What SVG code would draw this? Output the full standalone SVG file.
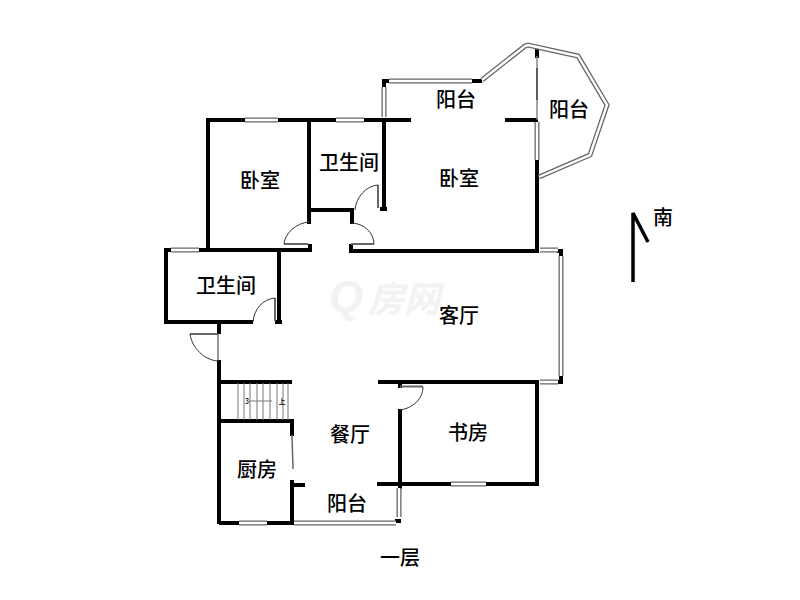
<svg xmlns="http://www.w3.org/2000/svg" width="800" height="600" viewBox="0 0 800 600">
<style>
.w{stroke:#000;stroke-width:4;fill:none;stroke-linecap:square}
.win{stroke:#666;stroke-width:5;fill:none;stroke-linecap:butt}
.wi{stroke:#fff;stroke-width:2.4;fill:none;stroke-linecap:butt}
.leaf{stroke:#666;stroke-width:2;fill:none}
.arc{stroke:#333;stroke-width:1;fill:none}
.st{stroke:#777;stroke-width:1;fill:none}
text{font-family:"Noto Sans CJK SC","Liberation Sans",sans-serif;font-size:20px;fill:#000;text-anchor:middle;font-weight:500}
</style>
<rect width="800" height="600" fill="#fff"/>
<text x="346" y="312" style="font-size:44px;fill:#f2f2f2;font-style:italic;font-family:'Liberation Sans',sans-serif;font-weight:700">Q</text>
<text x="404" y="312" style="font-size:36px;fill:#f2f2f2;font-style:italic;font-weight:700">房网</text>
<g id="walls">
<path class="w" d="M384 86V81H389M474 81H480M384 120V208M209 120H409M507 120H536M537 162V250M537 50V56"/>
<path class="w" d="M208 120V250M309 120V222M309 210H352M352 210V222M382 209H385M310 246V250M351 246V250M351 251H537"/>
<path class="w" d="M166 250H310M166 250V322M166 322H251M279 251V322M277 322H280M219 322V332M219 362V522M221 382H290M221 421H292M292 421V434M292 482V522M292 485H303M380 382H537M400 384V386M400 411V484M379 484H537M537 384V484M221 523H237M268 523H292M397 521H399M400 484V487"/>
<path class="w" d="M559 251H561V255M559 382H561V378"/>
</g>
<g id="windows">
<path class="win" d="M389 81H472M384 87V117M482 80L525 46L528 45L578 56L607 105L590 155L539 177M537 122V160M245 120H278M336 120H364M171 250H199M540 250H558M561 256V376M540 382H558M451 484H486M399 488V517M294 523H396M239 523H267"/>
<path class="wi" d="M389 81H472M384 87V117M482 80L525 46L528 45L578 56L607 105L590 155L539 177M537 122V160M245 120H278M336 120H364M171 250H199M540 250H558M561 256V376M540 382H558M451 484H486M399 488V517M294 523H396M239 523H267"/>
<path d="M537 56V120" stroke="#888" stroke-width="1.500" fill="none"/>
<path d="M537 68V100" stroke="#444" stroke-width="1.500" fill="none"/>
</g>
<g id="doors">
<path class="leaf" d="M284 244H308"/><path class="arc" d="M284 244C285 233 296 223 309 222"/>
<path class="leaf" d="M351 244H374"/><path class="arc" d="M351 223C364 223 374 233 374 244"/>
<path class="leaf" d="M378 185V208"/><path class="arc" d="M378 185C366 186 356 197 355 210"/>
<path class="leaf" d="M275 298V321"/><path class="arc" d="M275 298C263 299 254 309 253 322"/>
<path class="leaf" d="M190 334H218"/><path class="arc" d="M190 334C192 348 204 360 218 361M218 334V361"/>
<path class="leaf" d="M400 386.500H423"/><path class="arc" d="M423 387C423 399 412 409 399 410"/>
<path d="M292 435L293 469" stroke="#666" stroke-width="1.500" fill="none"/>
</g>
<g id="stairs">
<path class="st" d="M238 383V420M244 383V420M250 383V420M257 383V420M263 383V420M270 383V420M277 383V420M283 383V420M288 383V420M249 401H272"/>
<text x="282" y="404" style="font-size:7px">上</text>
<text x="247" y="404" style="font-size:7px">3</text>
</g>
<g id="compass">
<path d="M633 282V213L648 242" stroke="#000" stroke-width="3.500" fill="none"/>
<text x="663" y="225">南</text>
</g>
<g id="labels">
<text x="456" y="107">阳台</text>
<text x="569" y="117">阳台</text>
<text x="459" y="186">卧室</text>
<text x="260" y="188">卧室</text>
<text x="349" y="170">卫生间</text>
<text x="226" y="293">卫生间</text>
<text x="459" y="323">客厅</text>
<text x="350" y="442">餐厅</text>
<text x="468" y="440">书房</text>
<text x="257" y="477">厨房</text>
<text x="347" y="511">阳台</text>
<text x="400" y="565">一层</text>
</g>
</svg>
